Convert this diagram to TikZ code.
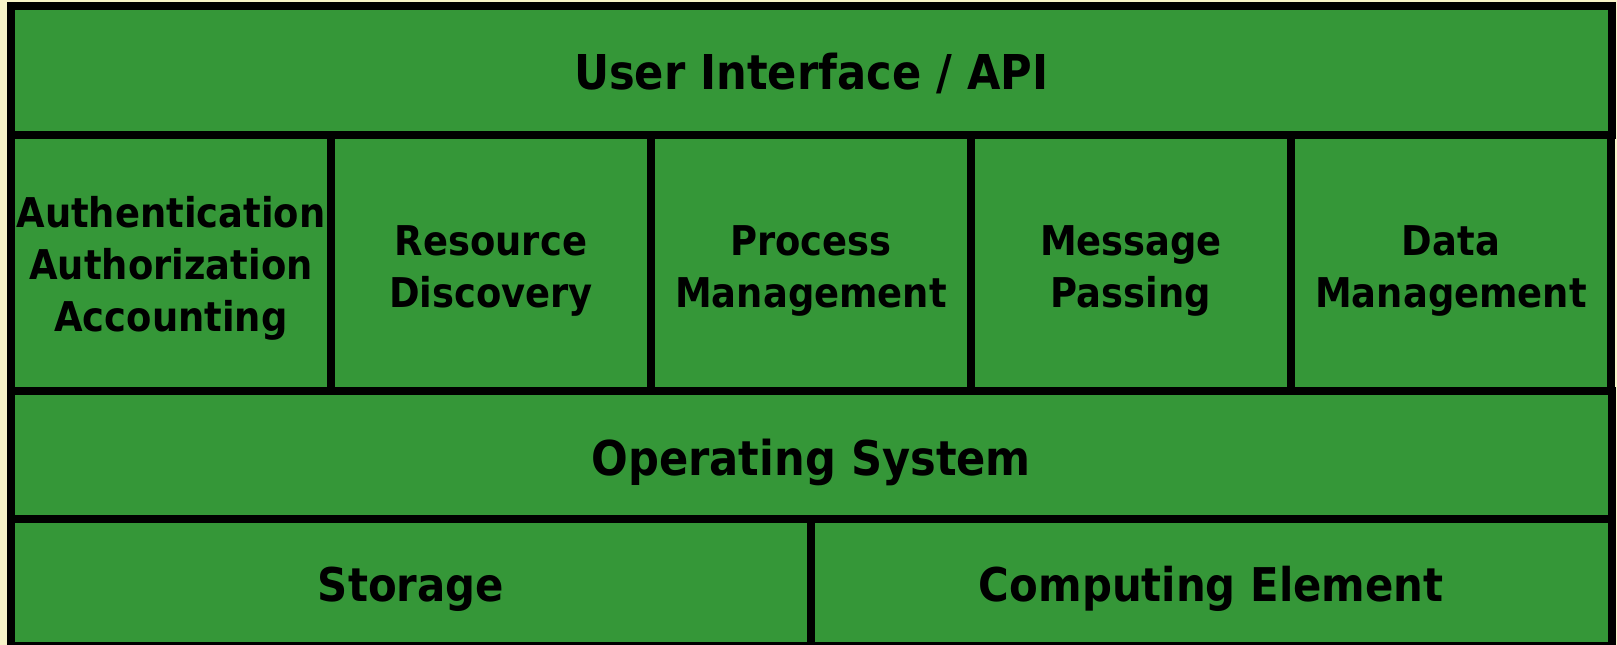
\documentclass[tikz,border=0pt]{standalone}
\usepackage{fontspec}
\setmainfont[FakeStretch=0.9]{DejaVu Sans}
\definecolor{layergreen}{RGB}{53,151,56}
\definecolor{paper}{RGB}{247,243,200}

\begin{document}
\begin{tikzpicture}[x=1pt,y=-1pt,
  layer/.style={draw=black, line width=8pt, fill=layergreen, rectangle,
    inner sep=0pt},
  caption/.style={inner sep=0pt, align=center, text=black},
  bigtext/.style={caption, font=\bfseries\fontsize{48}{51}\selectfont,
    text height=35pt, text depth=0pt},
  midtext/.style={caption, font=\bfseries\fontsize{41}{52}\selectfont},
  lowtext/.style={caption, font=\bfseries\fontsize{46.5}{51}\selectfont,
    text height=33.9pt, text depth=0pt}]

  % page background and bounding box
  \fill[paper] (0,0) rectangle (1617,645);
  \useasboundingbox (0,0) rectangle (1617,645);

  % top layer
  \node[layer, minimum width=1600.5pt, minimum height=129pt]
    (ui) at (811.25,70.5) {};
  \node[bigtext] (ui-text) at ([yshift=-1.5pt]ui.center) {User Interface / API};

  % middleware services
  \foreach \name/\shift/\label [count=\i from 0] in {%
      aaa/5.2/{Authentication\\Authorization\\Accounting},
      rd/7.7/{Resource\\Discovery},
      pm/7.7/{Process\\Management},
      mp/7.7/{Message\\Passing},
      dm/7.7/{Data\\Management}}
  {
    \node[layer, minimum width=320pt, minimum height=256pt]
      (\name) at (171+320*\i,263) {};
    \node[midtext] (\name-text) at ([yshift=-\shift pt]\name.center) {\label};
  }

  % operating system
  \node[layer, minimum width=1600.5pt, minimum height=128pt]
    (os) at (811.25,455) {};
  \node[bigtext] (os-text) at ([yshift=-2.5pt]os.center) {Operating System};

  % hardware
  \node[layer, minimum width=800pt, minimum height=127pt]
    (st) at (411,582.5) {};
  \node[lowtext] (st-text) at ([yshift=-2.5pt]st.center) {Storage};
  \node[layer, minimum width=800.5pt, minimum height=127pt]
    (ce) at (1211.25,582.5) {};
  \node[lowtext] (ce-text) at ([yshift=-2.5pt]ce.center) {Computing Element};
\end{tikzpicture}
\end{document}
